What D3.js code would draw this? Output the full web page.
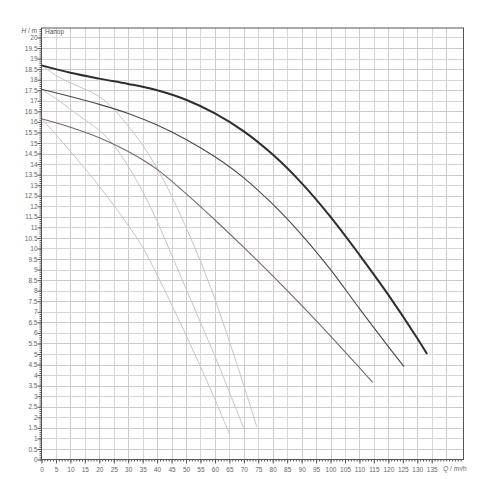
<!DOCTYPE html>
<html><head><meta charset="utf-8">
<script src="https://cdn.jsdelivr.net/npm/d3@7"></script>
<style>body{margin:0;background:#fff}svg{display:block}</style>
</head><body>
<script>
const xTicks = d3.range(0, 140, 5);
const yTicks = d3.range(0, 20.01, 0.5);
const title = "Напор";

const curveMain = [[0,18.68],[10,18.33],[20,18.05],[30,17.8],[40,17.5],[50,17.05],[60,16.4],[70,15.55],[80,14.45],[90,13.1],[100,11.5],[110,9.7],[120,7.8],[130,5.75],[133.4,5.0]];
const curveMid = [[0,17.55],[10,17.2],[20,16.83],[30,16.4],[40,15.85],[50,15.17],[60,14.35],[70,13.35],[80,12.1],[90,10.65],[100,9.0],[110,7.15],[120,5.35],[125.4,4.4]];
const curveLow = [[0,16.15],[10,15.75],[20,15.25],[30,14.6],[40,13.75],[50,12.6],[60,11.35],[70,10.05],[80,8.7],[90,7.3],[100,5.85],[110,4.35],[114.6,3.65]];
const light1 = [[0,18.7],[5,18.2],[10,17.85],[15,17.55],[20,17.2],[25,16.6],[30,15.8],[35,14.9],[40,13.8],[45,12.5],[50,11.0],[55,9.4],[60,7.6],[65,5.6],[70,3.5],[74.5,1.55]];
const light2 = [[0,17.55],[5,17.1],[10,16.6],[15,16.1],[20,15.6],[25,14.9],[30,13.9],[35,12.7],[40,11.3],[45,9.7],[50,8.1],[55,6.5],[60,4.9],[65,3.2],[70.2,1.4]];
const light3 = [[0,16.15],[5,15.4],[10,14.6],[15,13.8],[20,12.95],[25,12.05],[30,11.1],[35,10.05],[40,8.75],[45,7.35],[50,5.9],[55,4.4],[60,2.85],[65.2,1.15]];

const W = 500, H = 500;
const svg = d3.select("body").append("svg").attr("width", W).attr("height", H)
  .style("font-family", "'Liberation Sans', Arial, sans-serif");

const x = d3.scaleLinear().domain([0, 146]).range([41.5, 463.5]);
const y = d3.scaleLinear().domain([0, 20.45]).range([459.5, 28]);

// grid
const g = svg.append("g");
g.selectAll("line.v").data(d3.range(5, 145, 5)).join("line")
  .attr("x1", d => Math.round(x(d)) + 0.5).attr("x2", d => Math.round(x(d)) + 0.5)
  .attr("y1", y(20.45)).attr("y2", y(0))
  .attr("stroke", d => (d % 10 === 5) ? "#d6d6d6" : "#cbcbcb").attr("stroke-width", 1);
g.selectAll("line.h").data(d3.range(0.5, 20.01, 0.5)).join("line")
  .attr("y1", d => Math.round(y(d)) + 0.5).attr("y2", d => Math.round(y(d)) + 0.5)
  .attr("x1", x(0)).attr("x2", x(146))
  .attr("stroke", d => (Math.round(d * 2) % 2 === 1) ? "#cbcbcb" : "#d6d6d6").attr("stroke-width", 1);

// curves
const line = d3.line().x(d => x(d[0])).y(d => y(d[1])).curve(d3.curveCatmullRom.alpha(0.5));
[light1, light2, light3].forEach(c => {
  svg.append("path").datum(c).attr("d", line).attr("fill", "none")
    .attr("stroke", "#c6c6c6").attr("stroke-width", 1);
});
svg.append("path").datum(curveLow).attr("d", line).attr("fill", "none").attr("stroke", "#7d6473").attr("stroke-width", 1.1);
svg.append("path").datum(curveMid).attr("d", line).attr("fill", "none").attr("stroke", "#4e4650").attr("stroke-width", 1.1);
svg.append("path").datum(curveMain).attr("d", line).attr("fill", "none").attr("stroke", "#2e2e2e").attr("stroke-width", 2);

// frame
svg.append("rect").attr("x", x(0)).attr("y", y(20.45)).attr("width", x(146) - x(0)).attr("height", y(0) - y(20.45))
  .attr("fill", "none").attr("stroke", "#555").attr("stroke-width", 1);

// axes
const xg = svg.append("g").attr("transform", `translate(0,${y(0)})`)
  .call(d3.axisBottom(x).tickValues(xTicks).tickSize(4).tickFormat(d3.format("d")));
xg.select(".domain").remove();
xg.selectAll("line").attr("stroke", "#555");
xg.selectAll("text").attr("fill", "#666").style("font-size", "6.5px").attr("dy", "0.9em");
const xMinor = svg.append("g").attr("transform", `translate(0,${y(0)})`)
  .call(d3.axisBottom(x).tickValues(d3.range(0, 146, 1)).tickSize(2).tickFormat(""));
xMinor.select(".domain").remove();
xMinor.selectAll("line").attr("stroke", "#555");

const yg = svg.append("g").attr("transform", `translate(${x(0)},0)`)
  .call(d3.axisLeft(y).tickValues(yTicks).tickSize(4).tickFormat(d => d3.format("")(d)));
yg.select(".domain").remove();
yg.selectAll("line").attr("stroke", "#555");
yg.selectAll("text").attr("fill", "#666").style("font-size", "6.5px").attr("x", -4);
const yMinor = svg.append("g").attr("transform", `translate(${x(0)},0)`)
  .call(d3.axisLeft(y).tickValues(d3.range(0, 20.45, 0.1)).tickSize(2).tickFormat(""));
yMinor.select(".domain").remove();
yMinor.selectAll("line").attr("stroke", "#555");

// labels
svg.append("text").attr("x", 37).attr("y", 33).attr("text-anchor", "end")
  .style("font-size", "6.5px").attr("fill", "#555")
  .html('<tspan font-style="italic">H</tspan> / m');
svg.append("text").attr("x", 45).attr("y", 34).style("font-size", "6.5px").attr("fill", "#555").text(title);
svg.append("text").attr("x", 455).attr("y", y(0) + 11).attr("text-anchor", "middle")
  .style("font-size", "6.5px").attr("fill", "#666")
  .html('<tspan font-style="italic">Q</tspan> / m³/h');
</script>
</body></html>
